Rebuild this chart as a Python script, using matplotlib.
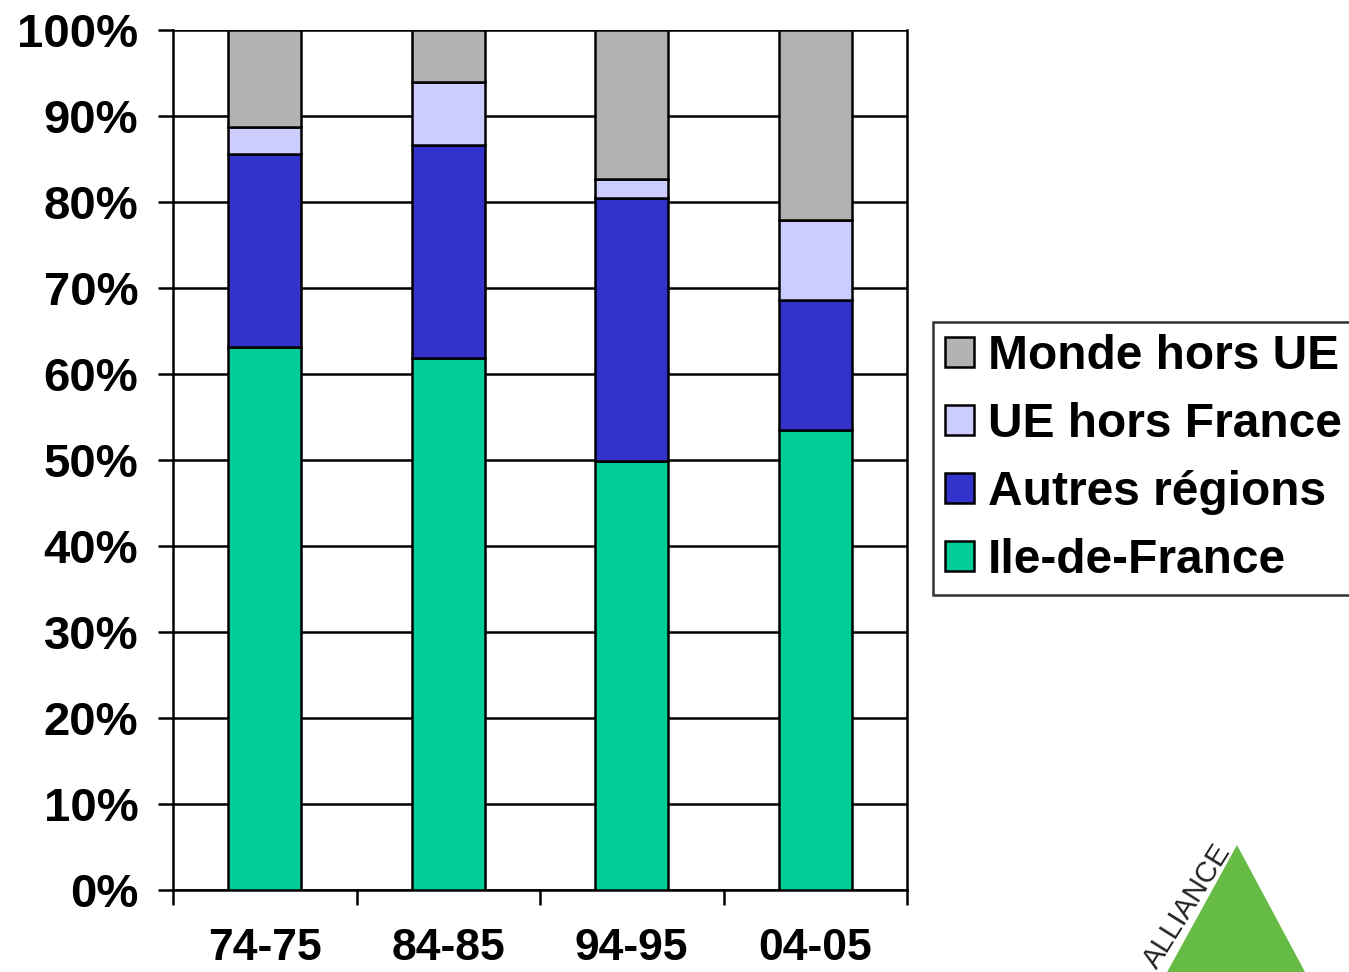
import matplotlib.pyplot as plt
import numpy as np
from matplotlib.patches import Polygon

plt.rcParams['font.family'] = ['Liberation Sans', 'DejaVu Sans']
plt.rcParams['font.weight'] = 'bold'

periodes = ['74-75', '84-85', '94-95', '04-05']
ile_de_france = [63.1, 61.9, 49.9, 53.5]
autres_regions = [22.5, 24.7, 30.6, 15.1]
ue_hors_france = [3.1, 7.4, 2.2, 9.3]
monde_hors_ue = [11.3, 6.0, 17.3, 22.1]

series = [
    ('Ile-de-France', ile_de_france, '#00cc99'),
    ('Autres régions', autres_regions, '#3333cc'),
    ('UE hors France', ue_hors_france, '#ccccff'),
    ('Monde hors UE', monde_hors_ue, '#b2b2b2'),
]

W, H = 1349, 972
fig = plt.figure(figsize=(W / 100, H / 100), dpi=100)
ax = fig.add_axes([173 / W, 1 - 890 / H, (907 - 173) / W, (890 - 30) / H])

x = np.arange(len(periodes))
bas = np.zeros(len(periodes))
barres = []
for nom, valeurs, couleur in series:
    valeurs = np.array(valeurs)
    b = ax.bar(x, valeurs, width=0.4, bottom=bas, color=couleur,
               edgecolor='black', linewidth=1.8, label=nom, zorder=3)
    barres.append(b)
    bas += valeurs

ax.set_xlim(-0.5, len(periodes) - 0.5)
ax.set_ylim(0, 100)
ax.set_yticks(np.arange(0, 101, 10))
ax.set_yticklabels([f'{v}%' for v in range(0, 101, 10)], fontsize=34, fontweight='bold')
ax.yaxis.grid(True, color='black', linewidth=1.8, zorder=0)
ax.tick_params(axis='y', length=11, width=1.8, pad=14)

ax.set_xticks(x)
ax.set_xticklabels(periodes, fontsize=32, fontweight='bold')
ax.set_xticks(np.arange(-0.5, len(periodes)), minor=True)
ax.tick_params(axis='x', which='major', length=0, pad=27)
ax.tick_params(axis='x', which='minor', length=11, width=1.8)

for s in ax.spines.values():
    s.set_linewidth(1.8)
ax.spines['top'].set_visible(False)

poignees = [barres[i] for i in range(3, -1, -1)]
noms = [series[i][0] for i in range(3, -1, -1)]
leg = fig.legend(poignees, noms, loc='upper left',
                 bbox_to_anchor=(933 / W, 1 - 322 / H), borderaxespad=0,
                 fontsize=34.5, frameon=True, fancybox=False, edgecolor='black',
                 handlelength=0.6, handleheight=0.6, handletextpad=0.3,
                 labelspacing=0.48, borderpad=0.25)
leg.get_frame().set_linewidth(1.8)
for t in leg.get_texts():
    t.set_fontweight('bold')

# logo en bas a droite
triangle = Polygon([[1237 / W, 1 - 845 / H], [1160 / W, 1 - 985 / H], [1312 / W, 1 - 985 / H]],
                   closed=True, transform=fig.transFigure, facecolor='#66bb44',
                   edgecolor='none')
fig.patches.append(triangle)
fig.text(1187 / W, 1 - 906 / H, 'ALLIANCE', rotation=58, fontsize=21, fontweight='normal',
         ha='center', va='center', color='#222222')

fig.savefig('out.png', dpi=100)
